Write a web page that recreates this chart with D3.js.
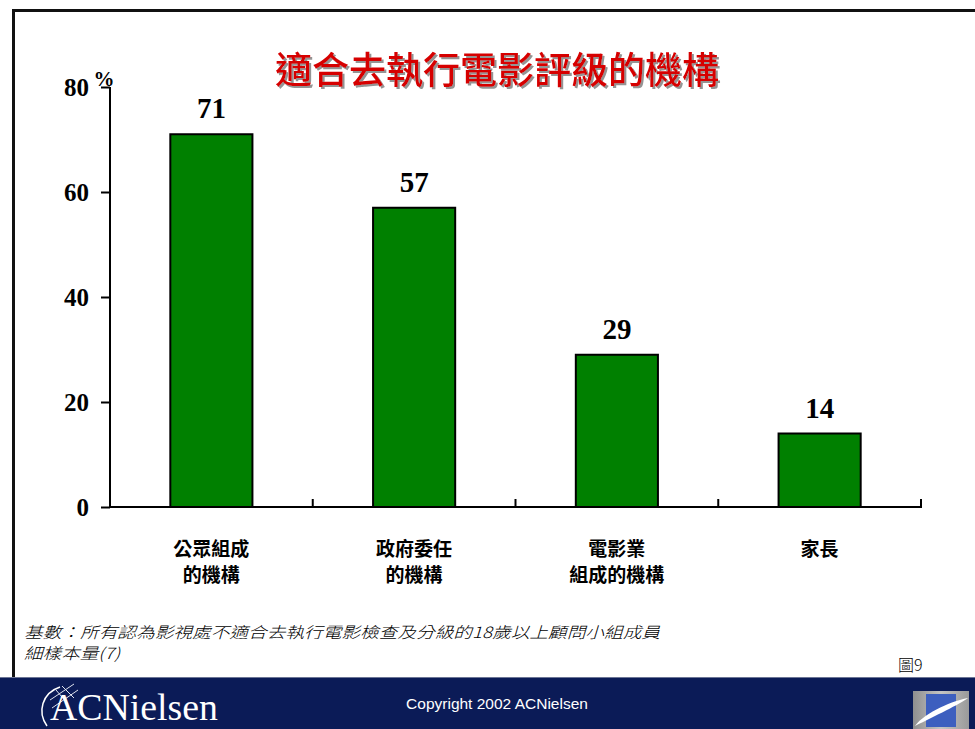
<!DOCTYPE html>
<html>
<head>
<meta charset="utf-8">
<script src="https://cdn.jsdelivr.net/npm/d3@7"></script>
<style>
  html, body { margin: 0; padding: 0; background: #fff; }
  svg { display: block; }
</style>
</head>
<body>
<svg id="chart" width="975" height="729"></svg>
<script>
// ---- data ----
const categories = [["公眾組成", "的機構"], ["政府委任", "的機構"], ["電影業", "組成的機構"], ["家長"]];
const values = [71, 57, 29, 14];
const yTicks = [0, 20, 40, 60, 80];
const title = "適合去執行電影評級的機構";
const footnotes = ["基數：所有認為影視處不適合去執行電影檢查及分級的18歲以上顧問小組成員", "細樣本量(7)"];
const figureLabel = "圖9";
const copyright = "Copyright 2002 ACNielsen";

const svg = d3.select("#chart");
const W = 975, H = 729;
const defs = svg.append("defs");

// title shadow filter
const f = defs.append("filter").attr("id", "tshadow").attr("x", "-5%").attr("y", "-20%").attr("width", "110%").attr("height", "140%");
f.append("feDropShadow").attr("dx", 2).attr("dy", 2).attr("stdDeviation", 0.6).attr("flood-color", "#888").attr("flood-opacity", 0.9);

// frame
svg.append("rect").attr("x", 0).attr("y", 0).attr("width", W).attr("height", H).attr("fill", "#fff");
svg.append("path").attr("d", `M13.5,677 V10.5 H${W}`)
  .attr("fill", "none").attr("stroke", "#111").attr("stroke-width", 3);

// title
svg.append("text").attr("x", 497).attr("y", 68).text(title)
  .attr("text-anchor", "middle").attr("dominant-baseline", "central")
  .attr("font-family", "Noto Sans CJK TC").attr("font-size", 37).attr("font-weight", 500)
  .attr("fill", "#d60000").attr("filter", "url(#tshadow)");

// scales
const x0 = 110, x1 = 921, yBase = 507, yTop = 87;
const x = d3.scaleBand().domain(d3.range(categories.length)).range([x0, x1]).padding(0);
const y = d3.scaleLinear().domain([0, 80]).range([yBase, yTop]);
const barW = x.bandwidth() * 0.405;

// y axis
const yAxis = d3.axisLeft(y).tickValues(yTicks).tickSize(9).tickPadding(12);
const gy = svg.append("g").attr("transform", `translate(${x0},0)`).call(yAxis);
gy.select(".domain").attr("stroke", "#000").attr("stroke-width", 2).attr("d", `M0,${yBase}V${yTop}`);
gy.selectAll(".tick line").attr("stroke", "#000").attr("stroke-width", 2);
gy.selectAll(".tick text").attr("font-family", "Liberation Serif").attr("font-weight", "bold")
  .attr("font-size", 25).attr("fill", "#000");

// % label
svg.append("text").attr("x", 104).attr("y", 86).text("%")
  .attr("text-anchor", "middle").attr("font-family", "Liberation Serif").attr("font-weight", "bold")
  .attr("font-size", 21).attr("fill", "#000");

// x axis line with boundary ticks pointing up
const boundaries = d3.range(1, categories.length + 1).map(i => x0 + x.step() * i);
svg.append("line").attr("x1", x0).attr("x2", x1 + 1).attr("y1", yBase).attr("y2", yBase)
  .attr("stroke", "#000").attr("stroke-width", 2);
svg.selectAll(".xtick").data(boundaries).join("line").attr("class", "xtick")
  .attr("x1", d => d).attr("x2", d => d).attr("y1", yBase).attr("y2", yBase - 8)
  .attr("stroke", "#000").attr("stroke-width", 2);

// bars
svg.selectAll(".bar").data(values).join("rect").attr("class", "bar")
  .attr("x", (d, i) => x(i) + (x.bandwidth() - barW) / 2)
  .attr("y", d => y(d))
  .attr("width", barW)
  .attr("height", d => yBase - y(d))
  .attr("fill", "#008000").attr("stroke", "#000").attr("stroke-width", 2);

// value labels
svg.selectAll(".val").data(values).join("text").attr("class", "val")
  .attr("x", (d, i) => x(i) + x.bandwidth() / 2)
  .attr("y", d => y(d) - 16)
  .text(d => d)
  .attr("text-anchor", "middle").attr("font-family", "Liberation Serif").attr("font-weight", "bold")
  .attr("font-size", 29).attr("fill", "#000");

// category labels
categories.forEach((lines, i) => {
  lines.forEach((t, j) => {
    svg.append("text").attr("x", x(i) + x.bandwidth() / 2).attr("y", 556 + j * 26).text(t)
      .attr("text-anchor", "middle").attr("font-family", "Noto Sans CJK TC").attr("font-weight", "bold")
      .attr("font-size", 19).attr("fill", "#000");
  });
});

// footnotes (one text block, two lines)
const fn = svg.append("text")
  .attr("font-family", "Noto Sans CJK TC").attr("font-style", "italic").attr("font-weight", 300)
  .attr("font-size", 15.5).attr("fill", "#000");
footnotes.forEach((t, j) => {
  const ts = fn.append("tspan").attr("x", 24).attr("y", 638 + j * 21).text(t);
  ts.attr("textLength", j === 0 ? 636 : 96).attr("lengthAdjust", "spacingAndGlyphs");
});
svg.append("text").attr("x", 898).attr("y", 671).text(figureLabel)
  .attr("font-family", "Noto Sans CJK TC").attr("font-weight", 300).attr("font-size", 16).attr("fill", "#000");

// footer
svg.append("rect").attr("x", 0).attr("y", 677).attr("width", W).attr("height", H - 677).attr("fill", "#0b1b57");
svg.append("line").attr("x1", 0).attr("x2", W).attr("y1", 677.5).attr("y2", 677.5).attr("stroke", "#6c7595").attr("stroke-width", 1);

// ACNielsen logo
const logo = svg.append("g");
logo.append("path").attr("d", "M60,687 C42,693 37,712 47,726").attr("fill", "none").attr("stroke", "#fff").attr("stroke-width", 1.5);
logo.append("path").attr("d", "M50,700 L74,684 M52,708 L78,690 M56,690 L68,704 M62,686 L74,698").attr("fill", "none").attr("stroke", "#dfe3ee").attr("stroke-width", 1);
logo.append("text").attr("x", 50).attr("y", 720).text("ACNielsen")
  .attr("font-family", "Liberation Serif").attr("font-size", 37).attr("fill", "#fff")
  .attr("textLength", 168).attr("lengthAdjust", "spacingAndGlyphs");

svg.append("text").attr("x", 497).attr("y", 709).text(copyright)
  .attr("text-anchor", "middle").attr("font-family", "Liberation Sans").attr("font-size", 15.5).attr("fill", "#fff");

// right icon
const gr = defs.append("linearGradient").attr("id", "gicon").attr("x1", 0).attr("x2", 1).attr("y1", 0).attr("y2", 0);
gr.append("stop").attr("offset", "0%").attr("stop-color", "#8f8f8f");
gr.append("stop").attr("offset", "50%").attr("stop-color", "#c4c4c4");
gr.append("stop").attr("offset", "100%").attr("stop-color", "#9a9a9a");
svg.append("rect").attr("x", 913).attr("y", 691).attr("width", 56).attr("height", 38).attr("fill", "url(#gicon)");
svg.append("rect").attr("x", 926).attr("y", 694).attr("width", 30).attr("height", 33).attr("fill", "#3d5fbf");
svg.append("path").attr("d", "M915,726 C925,712 955,700 968,698 C960,704 935,716 915,726 Z")
  .attr("fill", "#fff");
</script>
</body>
</html>
